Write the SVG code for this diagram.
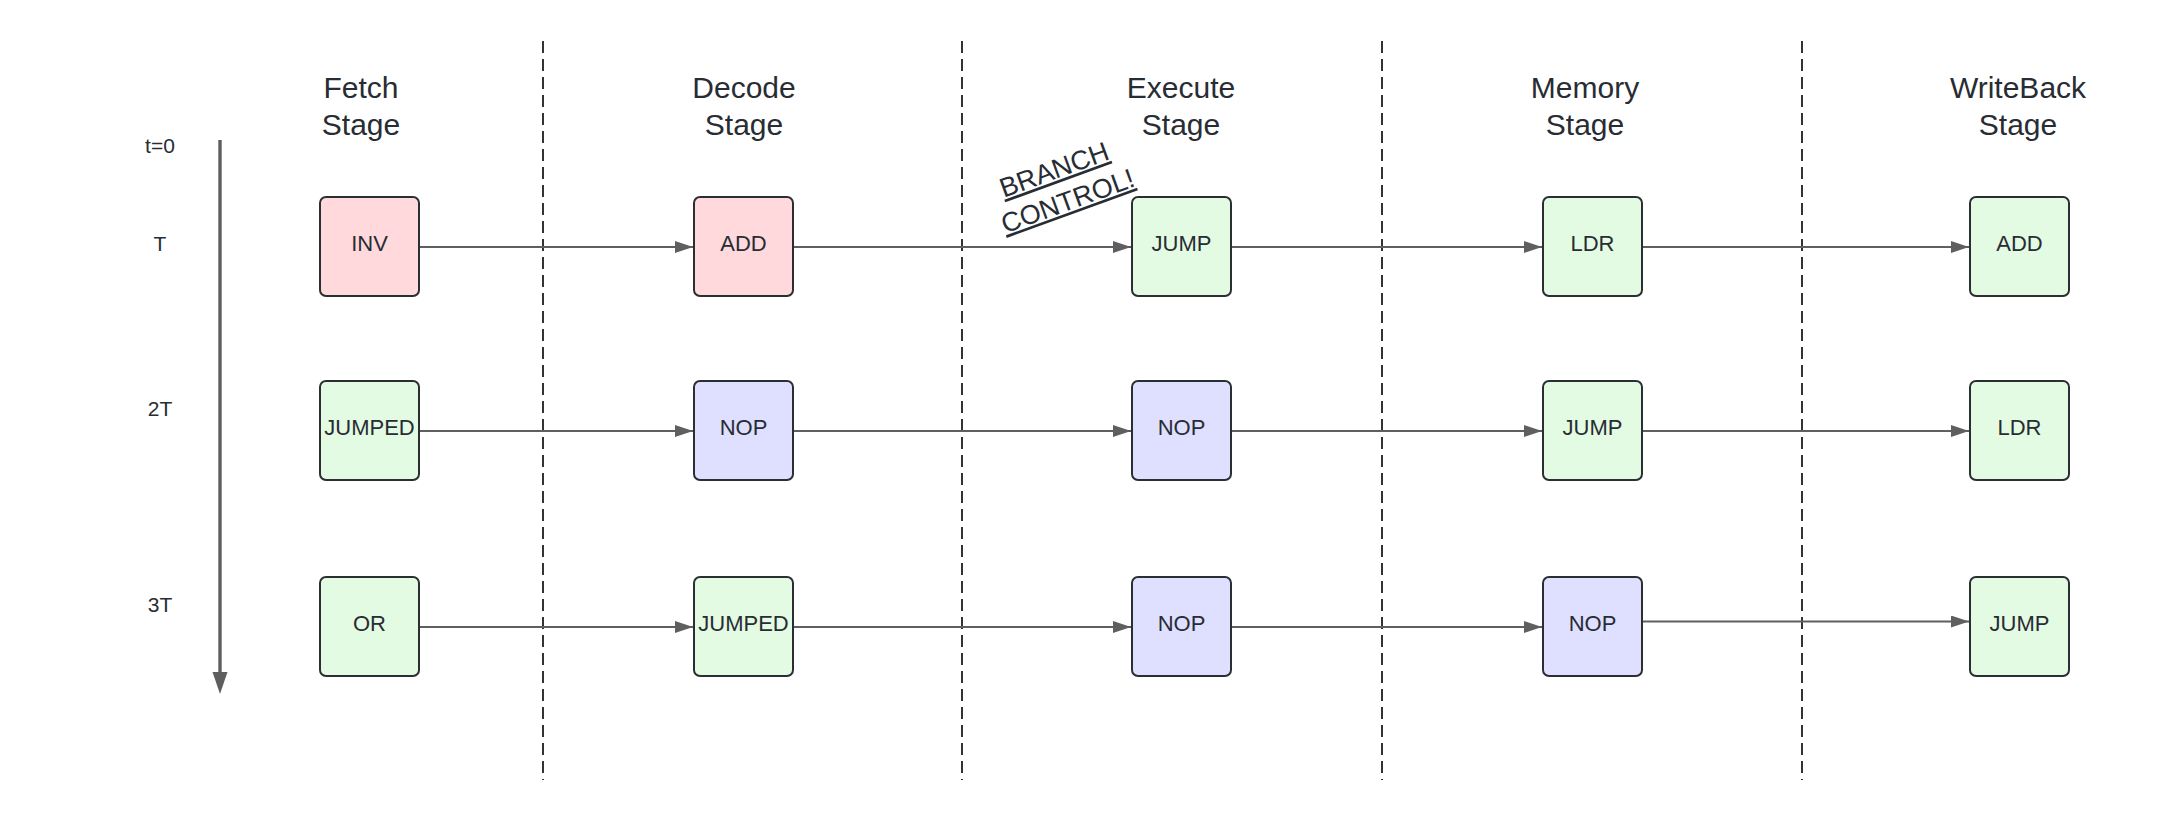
<svg xmlns="http://www.w3.org/2000/svg" width="2160" height="818" viewBox="0 0 2160 818">
  <style>
    .hdr { font-family: "Liberation Sans", Arial, sans-serif; font-size: 30px; fill: #282c33; text-anchor: middle; }
    .lbl { font-family: "Liberation Sans", Arial, sans-serif; font-size: 22px; fill: #282c33; text-anchor: middle; }
    .time { font-family: "Liberation Sans", Arial, sans-serif; font-size: 21px; fill: #282c33; text-anchor: middle; }
    .note { font-family: "Liberation Sans", Arial, sans-serif; font-size: 27px; fill: #282c33; text-anchor: middle; text-decoration: underline; }
    .box { stroke: #2b2e33; stroke-width: 2; }
    .red { fill: #ffd9dc; }
    .green { fill: #e3fae3; }
    .blue { fill: #dfdfff; }
    .sep { stroke: #333333; stroke-width: 2; stroke-dasharray: 12 6; fill: none; }
    .conn { stroke: #5f5f5f; stroke-width: 2; fill: none; marker-end: url(#arrow); }
  </style>
  <defs>
    <marker id="arrow" markerUnits="userSpaceOnUse" markerWidth="18" markerHeight="12" refX="18" refY="6" orient="auto">
      <path d="M0,0 L18,6 L0,12 Z" fill="#5f5f5f"/>
    </marker>
  </defs>
  <rect width="2160" height="818" fill="#ffffff"/>

  <g id="separators">
    <line class="sep" x1="543" y1="41" x2="543" y2="780"/>
    <line class="sep" x1="962" y1="41" x2="962" y2="780"/>
    <line class="sep" x1="1382" y1="41" x2="1382" y2="780"/>
    <line class="sep" x1="1802" y1="41" x2="1802" y2="780"/>
  </g>

  <g id="headers">
    <text class="hdr" x="361" y="98">Fetch</text>
    <text class="hdr" x="361" y="135">Stage</text>
    <text class="hdr" x="744" y="98">Decode</text>
    <text class="hdr" x="744" y="135">Stage</text>
    <text class="hdr" x="1181" y="98">Execute</text>
    <text class="hdr" x="1181" y="135">Stage</text>
    <text class="hdr" x="1585" y="98">Memory</text>
    <text class="hdr" x="1585" y="135">Stage</text>
    <text class="hdr" x="2018" y="98">WriteBack</text>
    <text class="hdr" x="2018" y="135">Stage</text>
  </g>

  <g id="timeline">
    <line x1="220" y1="140" x2="220" y2="676" stroke="#5e5e5e" stroke-width="3.4"/>
    <path d="M212.5,672 L227.5,672 L220,694 Z" fill="#5e5e5e"/>
    <text class="time" x="160" y="153">t=0</text>
    <text class="time" x="160" y="251">T</text>
    <text class="time" x="160" y="416">2T</text>
    <text class="time" x="160" y="612">3T</text>
  </g>

  <g id="branch-note" transform="translate(1064,194) rotate(-20)">
    <text class="note" x="-1" y="-17">BRANCH</text>
    <text class="note" x="1" y="17">CONTROL!</text>
  </g>

  <g id="connectors">
    <line class="conn" x1="419" y1="247" x2="693" y2="247"/>
    <line class="conn" x1="793" y1="247" x2="1131" y2="247"/>
    <line class="conn" x1="1231" y1="247" x2="1542" y2="247"/>
    <line class="conn" x1="1642" y1="247" x2="1969" y2="247"/>
    <line class="conn" x1="419" y1="431" x2="693" y2="431"/>
    <line class="conn" x1="793" y1="431" x2="1131" y2="431"/>
    <line class="conn" x1="1231" y1="431" x2="1542" y2="431"/>
    <line class="conn" x1="1642" y1="431" x2="1969" y2="431"/>
    <line class="conn" x1="419" y1="627" x2="693" y2="627"/>
    <line class="conn" x1="793" y1="627" x2="1131" y2="627"/>
    <line class="conn" x1="1231" y1="627" x2="1542" y2="627"/>
    <line class="conn" x1="1642" y1="621.5" x2="1969" y2="621.5"/>
  </g>

  <g id="fetch-T"><rect class="box red" x="320" y="197" width="99" height="99" rx="6"/><text class="lbl" x="369.5" y="251">INV</text></g>
  <g id="decode-T"><rect class="box red" x="694" y="197" width="99" height="99" rx="6"/><text class="lbl" x="743.5" y="251">ADD</text></g>
  <g id="execute-T"><rect class="box green" x="1132" y="197" width="99" height="99" rx="6"/><text class="lbl" x="1181.5" y="251">JUMP</text></g>
  <g id="memory-T"><rect class="box green" x="1543" y="197" width="99" height="99" rx="6"/><text class="lbl" x="1592.5" y="251">LDR</text></g>
  <g id="writeback-T"><rect class="box green" x="1970" y="197" width="99" height="99" rx="6"/><text class="lbl" x="2019.5" y="251">ADD</text></g>

  <g id="fetch-2T"><rect class="box green" x="320" y="381" width="99" height="99" rx="6"/><text class="lbl" x="369.5" y="435">JUMPED</text></g>
  <g id="decode-2T"><rect class="box blue" x="694" y="381" width="99" height="99" rx="6"/><text class="lbl" x="743.5" y="435">NOP</text></g>
  <g id="execute-2T"><rect class="box blue" x="1132" y="381" width="99" height="99" rx="6"/><text class="lbl" x="1181.5" y="435">NOP</text></g>
  <g id="memory-2T"><rect class="box green" x="1543" y="381" width="99" height="99" rx="6"/><text class="lbl" x="1592.5" y="435">JUMP</text></g>
  <g id="writeback-2T"><rect class="box green" x="1970" y="381" width="99" height="99" rx="6"/><text class="lbl" x="2019.5" y="435">LDR</text></g>

  <g id="fetch-3T"><rect class="box green" x="320" y="577" width="99" height="99" rx="6"/><text class="lbl" x="369.5" y="631">OR</text></g>
  <g id="decode-3T"><rect class="box green" x="694" y="577" width="99" height="99" rx="6"/><text class="lbl" x="743.5" y="631">JUMPED</text></g>
  <g id="execute-3T"><rect class="box blue" x="1132" y="577" width="99" height="99" rx="6"/><text class="lbl" x="1181.5" y="631">NOP</text></g>
  <g id="memory-3T"><rect class="box blue" x="1543" y="577" width="99" height="99" rx="6"/><text class="lbl" x="1592.5" y="631">NOP</text></g>
  <g id="writeback-3T"><rect class="box green" x="1970" y="577" width="99" height="99" rx="6"/><text class="lbl" x="2019.5" y="631">JUMP</text></g>
</svg>
